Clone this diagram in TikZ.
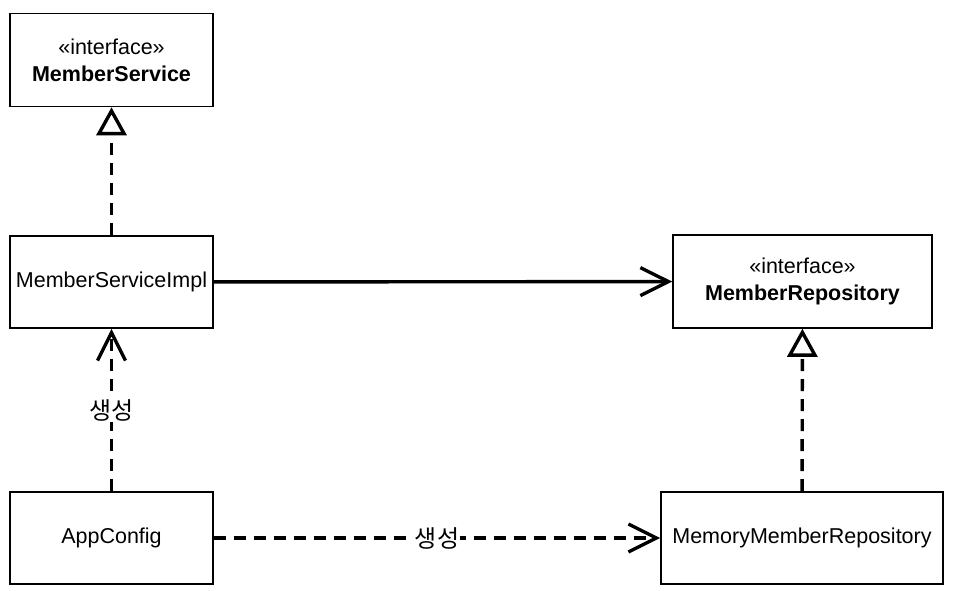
\documentclass[tikz,border=0pt]{standalone}
\usepackage{fontspec}
\setmainfont{Liberation Sans}
\newfontfamily\kr{Noto Sans CJK KR}
\usetikzlibrary{arrows.meta}
\begin{document}
\begin{tikzpicture}[x=1pt,y=-1pt,
  cls/.style={draw, line width=1.6pt, rectangle, align=center, inner sep=0pt,
    font=\fontsize{21.5}{27}\selectfont},
  dashln/.style={line width=3.4pt, dash pattern=on 12pt off 8pt},
  solidln/.style={line width=3.4pt},
  realize/.style={-{Triangle[open, length=28pt, width=30pt, fill=white]}},
  dep/.style={-{Straight Barb[length=28pt, width=28pt]}},
  lbl/.style={fill=white, inner sep=1pt, font=\kr\fontsize{24}{28}\selectfont}]
\useasboundingbox (0,0) rectangle (954,591);
\node[cls, minimum width=203pt, minimum height=93pt] (ms) at (111.5,60) {«interface»\\\textbf{MemberService}};
\node[cls, minimum width=203pt, minimum height=92pt] (msi) at (111.5,282) {MemberServiceImpl};
\node[cls, minimum width=259pt, minimum height=93pt] (mr) at (802.5,281.5) {«interface»\\\textbf{MemberRepository}};
\node[cls, minimum width=203pt, minimum height=92pt] (ac) at (111.5,538) {AppConfig};
\node[cls, minimum width=282pt, minimum height=92pt] (mmr) at (802,538) {MemoryMemberRepository};
\draw[dashln, realize] (msi) -- (ms);
\draw[solidln, dep] (msi) -- (mr);
\draw[dashln, dep] (ac) -- node[lbl] {생성} (msi);
\draw[dashln, realize] (mmr) -- (mr);
\draw[dashln, dep] (ac) -- node[lbl] {생성} (mmr);
\end{tikzpicture}
\end{document}
